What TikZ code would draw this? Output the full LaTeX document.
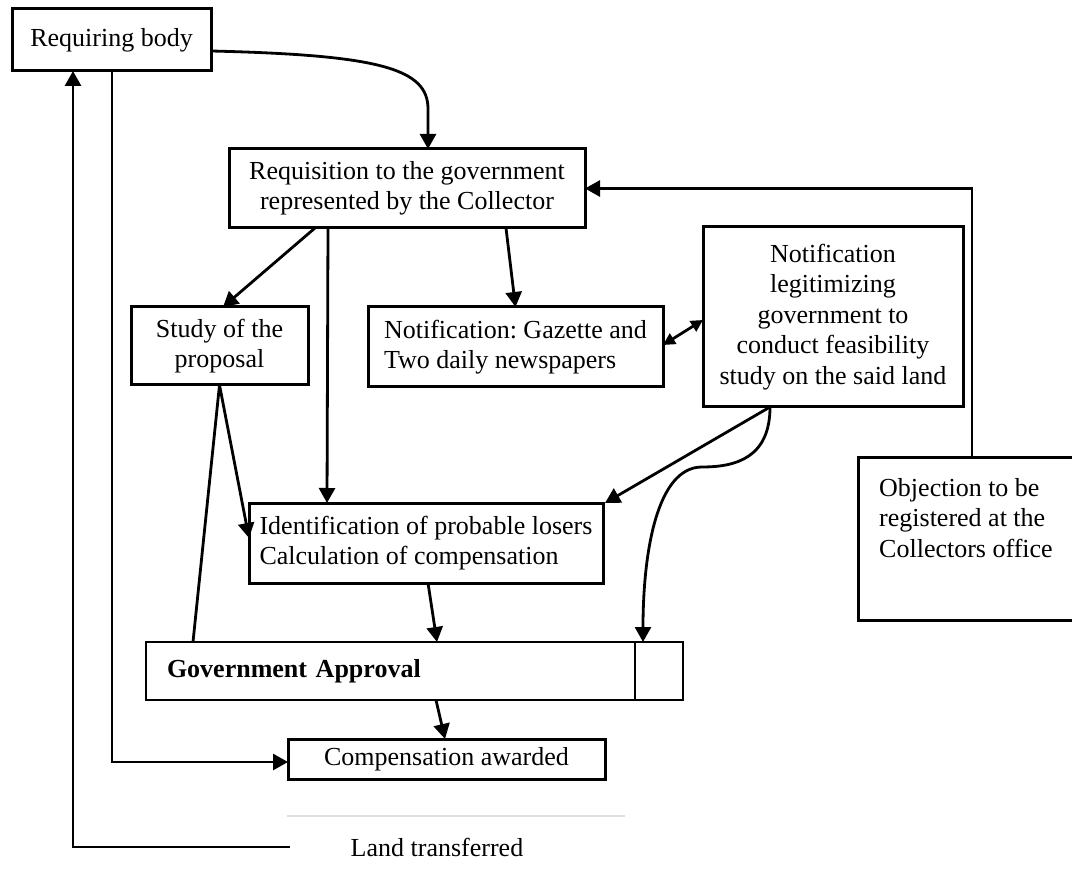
\documentclass[tikz,border=0pt]{standalone}
\usepackage{fontspec}
\setmainfont{Liberation Serif}
\usetikzlibrary{arrows.meta}

\tikzstyle{box}=[draw,line width=3pt,rectangle,inner sep=0pt,outer sep=0pt,font=\fontsize{26}{30.5}\selectfont]
\tikzstyle{txt}=[inner sep=0pt,font=\fontsize{26}{30.5}\selectfont]
\tikzstyle{edge}=[draw,line width=2.8pt,-{Triangle[length=15pt,width=16pt]}]
\tikzstyle{twoway}=[draw,line width=2.8pt,{Triangle[length=12pt,width=12pt]}-{Triangle[length=12pt,width=12pt]}]
\newcommand{\pxscale}{1pt}

\begin{document}
\frenchspacing
\begin{tikzpicture}[x=\pxscale, y=-\pxscale]
    \useasboundingbox (0,0) rectangle (1072,877);
    % First we draw the boxes
    \node[box, minimum width=199pt, minimum height=62pt] (req) at (111.5,40) {Requiring body};
    \node[box, align=center, minimum width=356pt, minimum height=79pt] (rqn) at (407,188.5) {Requisition to the government\\represented by the Collector};
    \node[box, align=center, minimum width=177pt, minimum height=78pt] (study) at (219.5,346) {Study of the\\proposal};
    \node[box, align=left, minimum width=295pt, minimum height=80pt] (gaz) at (515.5,347) {Notification: Gazette and\\Two daily newspapers};
    \node[box, align=center, minimum width=260pt, minimum height=180pt] (legit) at (833,317) {Notification\\legitimizing\\government to\\conduct feasibility\\study on the said land};
    \node[box, minimum width=222pt, minimum height=162pt] (obj) at (969,539) {};
    \node[txt, anchor=north west, align=left] (objtxt) at ([xshift=21pt,yshift=-20pt]obj.north west) {Objection to be\\registered at the\\Collectors office};
    \node[box, align=left, minimum width=354pt, minimum height=80pt] (ident) at (426,543) {Identification of probable losers\\Calculation of compensation};
    \node[box, line width=2.2pt, text width=447pt, inner xsep=21pt, align=left, minimum height=58pt, font=\fontsize{26}{30.5}\selectfont\bfseries] (gov) at (390.5,671) {Government Approval};
    \node[box, line width=2.2pt, minimum width=48pt, minimum height=58pt] (govx) at (659,671) {};
    \node[box, minimum width=317pt, minimum height=40pt] (comp) at (446.5,759) {Compensation awarded};
    \node[txt] (land) at (437,847) {Land transferred};
    \coordinate (landend) at (290,847);
    \draw[gray!25, line width=2pt] (287,816) -- (625,816);

    % Connect boxes with arrows
    \path[edge] ([yshift=-11pt]req.east) .. controls +(170,4) and +(0,-40) .. ([xshift=21pt,yshift=40pt]rqn.north) -- ([xshift=21pt]rqn.north);
    \path[edge] ([xshift=-92pt]rqn.south) -- ([xshift=3.5pt]study.north);
    \path[edge] ([xshift=-79pt]rqn.south) -- ([xshift=-99pt]ident.north);
    \path[edge] ([xshift=99pt]rqn.south) -- (gaz.north);
    \path[twoway] ([yshift=2pt]gaz.east) -- ([yshift=-3pt]legit.west);
    \path[edge] ([xshift=3pt]obj.north) |- (rqn.east);
    \path[edge] ([xshift=-63pt]legit.south) -- ([xshift=2pt]ident.north east);
    \path[edge] ([xshift=-63pt]legit.south) .. controls +(0,50) and +(35,0) .. ++(-68,60) .. controls +(-45,0) and +(0,-90) .. ([xshift=-16pt]govx.north);
    \path[edge] (study.south) -- ([yshift=5pt]ident.west);
    \path[draw, line width=2.8pt] (study.south) -- ([xshift=-197.5pt]gov.north);
    \path[edge] ([xshift=2pt]ident.south) -- ([xshift=46.5pt]gov.north);
    \path[edge] ([xshift=45.5pt]gov.south) -- ([xshift=-1.5pt]comp.north);
    \path[edge] ([xshift=0.5pt]req.south) |- ([yshift=-3pt]comp.west);
    \path[edge] (landend) -| ([xshift=-38.5pt]req.south);
\end{tikzpicture}
\end{document}
